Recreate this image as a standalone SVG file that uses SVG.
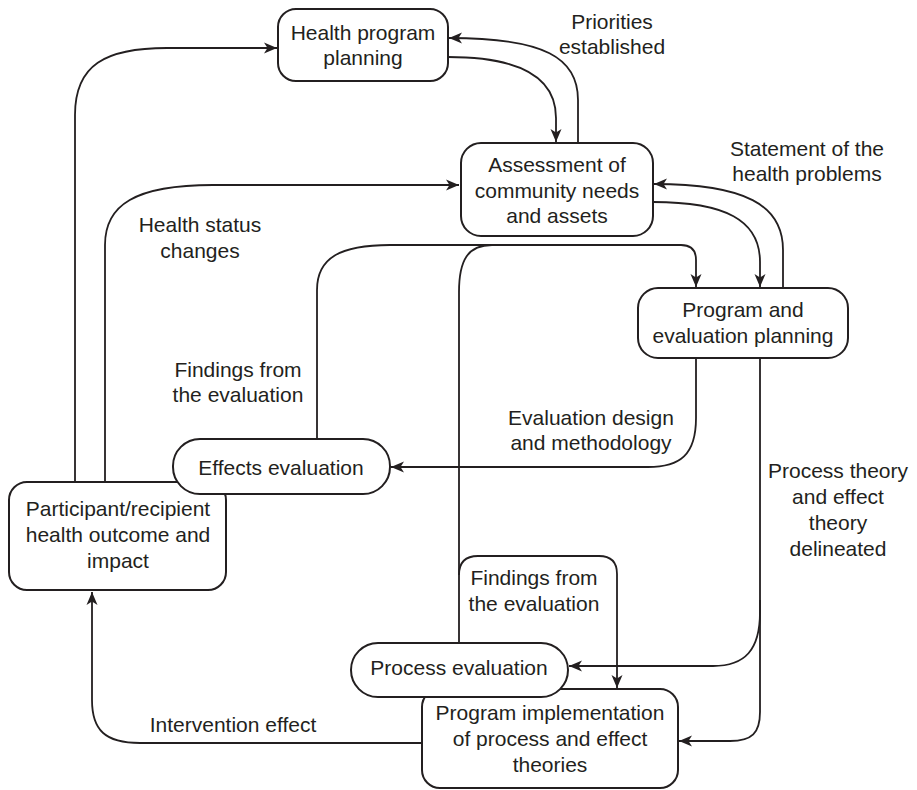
<svg xmlns="http://www.w3.org/2000/svg" width="917" height="790" viewBox="0 0 917 790">
<defs>
<marker id="ah" markerUnits="userSpaceOnUse" markerWidth="14" markerHeight="12" refX="13" refY="6" orient="auto">
<path d="M0,0.5 L13,6 L0,11.5 L3.5,6 z" fill="#231f20"/>
</marker>
<style>
.box{fill:#fff;stroke:#231f20;stroke-width:2}
.ln{fill:none;stroke:#231f20;stroke-width:1.8}
.arr{marker-end:url(#ah)}
text{font-family:"Liberation Sans",Arial,sans-serif;font-size:21px;fill:#231f20;text-anchor:middle}
</style>
</defs>
<rect width="917" height="790" fill="#fff"/>
<g id="connectors">
<path class="ln arr" d="M75,482 L75,115 C75,65 105,48 167,48 L277,48"/>
<path class="ln arr" d="M105,482 L105,245 C105,205 135,185 213,185 L459,185"/>
<path class="ln arr" d="M317,439 L317,290 C317,258 340,245 390,245 L681,245 Q696,245 696,260 L696,287"/>
<path class="ln" d="M459,643 L459,292 C459,260 468,245 492,245"/>
<path class="ln arr" d="M448,57 C525,57 556,80 556,118 L556,142"/>
<path class="ln arr" d="M578,143 L578,100 C578,58 545,38 449,38"/>
<path class="ln arr" d="M653,202 C725,202 760,220 760,262 L760,287"/>
<path class="ln arr" d="M783,287 L783,250 C783,205 745,184 654,184"/>
<path class="ln arr" d="M696,358 L696,418 C696,455 680,467 648,467 L391,467"/>
<path class="ln arr" d="M760,358 L760,612 C760,650 745,666 713,666 L569,666"/>
<path class="ln arr" d="M760,600 L760,712 C760,733 752,741 730,741 L679,741"/>
<path class="ln arr" d="M459,575 Q459,556 478,556 L599,556 Q617,556 617,574 L617,688"/>
<path class="ln arr" d="M422,743 L140,743 C105,743 92,730 92,700 L92,592"/>
</g>
<g id="labels">
<text x="612" y="29">Priorities</text>
<text x="612" y="54">established</text>
<text x="807" y="156">Statement of the</text>
<text x="807" y="181">health problems</text>
<text x="200" y="232">Health status</text>
<text x="200" y="258">changes</text>
<text x="238" y="377">Findings from</text>
<text x="238" y="402">the evaluation</text>
<text x="591" y="425">Evaluation design</text>
<text x="591" y="450">and methodology</text>
<text x="838" y="478">Process theory</text>
<text x="838" y="504">and effect</text>
<text x="838" y="530">theory</text>
<text x="838" y="556">delineated</text>
<text x="534" y="585">Findings from</text>
<text x="534" y="611">the evaluation</text>
<text x="233" y="732">Intervention effect</text>
</g>
<g id="hpp">
<rect class="box" x="278" y="9" width="170" height="72" rx="18"/>
<text x="363" y="40">Health program</text>
<text x="363" y="65">planning</text>
</g>
<g id="assessment">
<rect class="box" x="461" y="143" width="192" height="93" rx="20"/>
<text x="557" y="172">Assessment of</text>
<text x="557" y="198">community needs</text>
<text x="557" y="223">and assets</text>
</g>
<g id="program-planning">
<rect class="box" x="638" y="288" width="210" height="70" rx="20"/>
<text x="743" y="317">Program and</text>
<text x="743" y="343">evaluation planning</text>
</g>
<g id="participant">
<rect class="box" x="9" y="482" width="217" height="108" rx="18"/>
<text x="118" y="516">Participant/recipient</text>
<text x="118" y="542">health outcome and</text>
<text x="118" y="568">impact</text>
</g>
<g id="effects">
<rect class="box" x="173" y="439" width="217" height="55" rx="27"/>
<text x="281" y="475">Effects evaluation</text>
</g>
<g id="implementation">
<rect class="box" x="422" y="689" width="256" height="99" rx="18"/>
<text x="550" y="720">Program implementation</text>
<text x="550" y="746">of process and effect</text>
<text x="550" y="772">theories</text>
</g>
<g id="process">
<rect class="box" x="351" y="643" width="217" height="54" rx="27"/>
<text x="459" y="675">Process evaluation</text>
</g>
</svg>
